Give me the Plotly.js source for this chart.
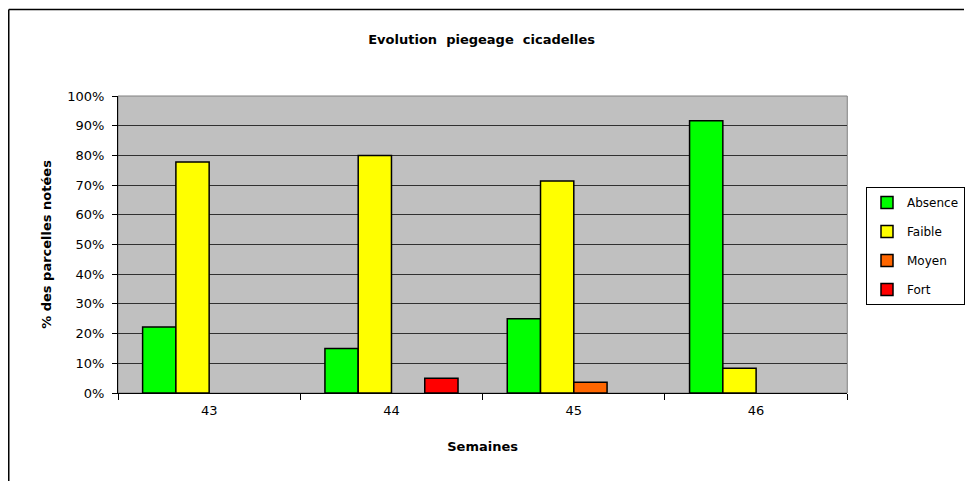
<!DOCTYPE html>
<html>
<head>
<meta charset="utf-8">
<script src="https://cdn.plot.ly/plotly-3.0.1.min.js"></script>
<style>
html,body{margin:0;padding:0;background:#fff;}
#chart{width:965px;height:481px;}
</style>
</head>
<body>
<div id="chart"></div>
<script>
const weeks = ['43', '44', '45', '46'];
const absence = [0.222, 0.15, 0.25, 0.917];
const faible = [0.778, 0.80, 0.714, 0.083];
const moyen = [null, null, 0.036, null];
const fort = [null, 0.05, null, null];
const seriesNames = ['Absence', 'Faible', 'Moyen', 'Fort'];
const seriesColors = ['#00FF00', '#FFFF00', '#FF6600', '#FF0000'];
const yTickVals = [0, 0.1, 0.2, 0.3, 0.4, 0.5, 0.6, 0.7, 0.8, 0.9, 1.0];
const yTickText = ['0%', '10%', '20%', '30%', '40%', '50%', '60%', '70%', '80%', '90%', '100%'];

const font = 'DejaVu Sans, Liberation Sans, Arial, sans-serif';
const allSeries = [absence, faible, moyen, fort];

const traces = allSeries.map((vals, i) => ({
  type: 'bar',
  name: seriesNames[i],
  x: weeks,
  y: vals,
  legendgroup: 'g' + i,
  marker: {color: seriesColors[i], line: {color: '#000000', width: 1.5}},
  hoverinfo: 'x+y+name'
}));

// pixel geometry
const L = 118, R = 849, T = 96, B = 393;
const PW = 965 - L;          // paper width (margin r = 0)
const H = B - T;
const px = v => (v - L) / PW;
const py = v => (B - v) / H;

const layout = {
  width: 965,
  height: 481,
  margin: {l: L, r: 0, t: T, b: 481 - B, pad: 0},
  paper_bgcolor: '#FFFFFF',
  plot_bgcolor: '#C0C0C0',
  font: {family: font, size: 13, color: '#000000'},
  barmode: 'group',
  bargap: 0.27,
  bargroupgap: 0,
  showlegend: true,
  title: {
    text: '<b>Evolution  piegeage  cicadelles</b>',
    font: {family: font, size: 13, color: '#000000'},
    x: px(482.5), xref: 'paper', xanchor: 'center',
    y: 1 - 39 / 481, yref: 'container', yanchor: 'middle'
  },
  xaxis: {
    type: 'category',
    domain: [0, (R - L) / PW],
    tickson: 'boundaries',
    ticks: 'outside',
    ticklen: 6,
    tickcolor: '#000000',
    tickwidth: 1,
    showline: true,
    linecolor: '#000000',
    linewidth: 1,
    showgrid: false,
    zeroline: false,
    tickfont: {family: font, size: 13},
    ticklabelstandoff: 5,
    automargin: false,
    title: {text: '<b>Semaines</b>', font: {family: font, size: 13}, standoff: 25}
  },
  yaxis: {
    range: [0, 1],
    tickvals: yTickVals,
    ticktext: yTickText,
    ticks: 'outside',
    ticklen: 5,
    tickcolor: '#000000',
    showline: true,
    linecolor: '#000000',
    linewidth: 1,
    showgrid: true,
    gridcolor: '#303030',
    gridwidth: 1,
    zeroline: false,
    tickfont: {family: font, size: 13},
    ticklabelstandoff: 5,
    automargin: false,
    title: {text: '<b>% des parcelles notées</b>', font: {family: font, size: 13}, standoff: 12}
  },
  legend: {
    x: px(868), y: py(187), xanchor: 'left', yanchor: 'top',
    bgcolor: '#FFFFFF', bordercolor: '#000000', borderwidth: 1,
    font: {family: font, size: 12},
    traceorder: 'grouped',
    tracegroupgap: 10
  },
  shapes: [
    {type: 'rect', xref: 'paper', yref: 'paper', x0: 0, x1: (R - L) / PW, y0: 0, y1: 1,
     line: {color: '#808080', width: 1}, layer: 'below'},
    {type: 'line', xref: 'paper', yref: 'paper', x0: px(8.5), x1: px(966), y0: py(9.5), y1: py(9.5),
     line: {color: '#000000', width: 1.5}},
    {type: 'line', xref: 'paper', yref: 'paper', x0: px(8.5), x1: px(8.5), y0: py(9.5), y1: py(482),
     line: {color: '#000000', width: 1.5}}
  ]
};

Plotly.newPlot('chart', traces, layout, {displayModeBar: false, staticPlot: true});
</script>
</body>
</html>
